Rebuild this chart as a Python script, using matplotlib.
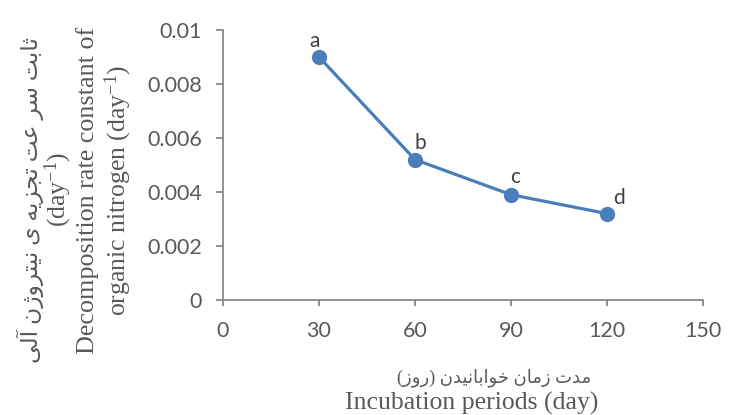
import matplotlib
matplotlib.use('Agg')
import matplotlib.pyplot as plt

# === DATA ===
days = [30, 60, 90, 120]
k_values = [0.0090, 0.0052, 0.0039, 0.0032]
letters = ['a', 'b', 'c', 'd']
x_ticks = [0, 30, 60, 90, 120, 150]
y_ticks = [0, 0.002, 0.004, 0.006, 0.008, 0.01]
y_tick_labels = ['0', '0.002', '0.004', '0.006', '0.008', '0.01']

y_label_fa = 'ثابت سر عت تجزیه ی نیتروژن آلی'
y_label_en1 = 'Decomposition rate constant of'
y_label_en2 = 'organic nitrogen (day$^{-1}$)'
y_label_unit = '(day$^{-1}$)'
x_label_fa = 'مدت زمان خوابانیدن (روز)'
x_label_en = 'Incubation periods (day)'

# === SIMPLE PERSIAN SHAPING (matplotlib has no bidi/shaping) ===
# letter: (isolated, final, initial, medial); right-joining letters only have 2 forms
FORMS = {
    'ا': ('\uFE8D', '\uFE8E'), 'آ': ('\uFE81', '\uFE82'),
    'د': ('\uFEA9', '\uFEAA'), 'ر': ('\uFEAD', '\uFEAE'),
    'ز': ('\uFEAF', '\uFEB0'), 'ژ': ('\uFB8A', '\uFB8B'),
    'و': ('\uFEED', '\uFEEE'),
    'ب': ('\uFE8F', '\uFE90', '\uFE91', '\uFE92'),
    'ت': ('\uFE95', '\uFE96', '\uFE97', '\uFE98'),
    'ث': ('\uFE99', '\uFE9A', '\uFE9B', '\uFE9C'),
    'ج': ('\uFE9D', '\uFE9E', '\uFE9F', '\uFEA0'),
    'خ': ('\uFEA5', '\uFEA6', '\uFEA7', '\uFEA8'),
    'س': ('\uFEB1', '\uFEB2', '\uFEB3', '\uFEB4'),
    'ع': ('\uFEC9', '\uFECA', '\uFECB', '\uFECC'),
    'ل': ('\uFEDD', '\uFEDE', '\uFEDF', '\uFEE0'),
    'م': ('\uFEE1', '\uFEE2', '\uFEE3', '\uFEE4'),
    'ن': ('\uFEE5', '\uFEE6', '\uFEE7', '\uFEE8'),
    'ه': ('\uFEE9', '\uFEEA', '\uFEEB', '\uFEEC'),
    'ی': ('\uFBFC', '\uFBFD', '\uFBFE', '\uFBFF'),
}


def shape_fa(text):
    out = []
    for i, ch in enumerate(text):
        if ch not in FORMS:
            out.append(ch)
            continue
        prev = text[i - 1] if i > 0 else ''
        nxt = text[i + 1] if i < len(text) - 1 else ''
        join_prev = prev in FORMS and len(FORMS[prev]) == 4
        join_next = len(FORMS[ch]) == 4 and nxt in FORMS
        f = FORMS[ch]
        if join_prev and join_next:
            out.append(f[3])
        elif join_prev:
            out.append(f[1])
        elif join_next:
            out.append(f[2])
        else:
            out.append(f[0])
    vis = ''.join(reversed(out))
    return vis.translate(str.maketrans('()', ')('))


plt.rcParams['mathtext.fontset'] = 'custom'
plt.rcParams['mathtext.rm'] = 'Liberation Serif'
plt.rcParams['mathtext.it'] = 'Liberation Serif'

tick_color = '#595959'
axis_color = '#898989'
line_color = '#4a7ebb'
serif = ['Liberation Serif', 'DejaVu Sans']

fig = plt.figure(figsize=(7.4, 4.15), dpi=100)
ax = fig.add_axes([223 / 740, 1 - 300 / 415, 480 / 740, 270 / 415])

ax.plot(days, k_values, color=line_color, lw=2.3, marker='o', ms=10,
        mfc=line_color, mec=line_color, clip_on=False, zorder=3)

offsets = [(-4, 16), (5, 17), (4, 18), (12, 16)]
for x, y, t, off in zip(days, k_values, letters, offsets):
    ax.annotate(t, (x, y), xytext=off, textcoords='offset pixels',
                ha='center', va='center', fontsize=15, color='#404040',
                family='Lato')

ax.set_xlim(0, 150)
ax.set_ylim(0, 0.01)
ax.set_xticks(x_ticks)
ax.set_yticks(y_ticks)
ax.set_yticklabels(y_tick_labels)

for s in ['top', 'right']:
    ax.spines[s].set_visible(False)
for s in ['left', 'bottom']:
    ax.spines[s].set_color(axis_color)
    ax.spines[s].set_linewidth(1.3)

ax.tick_params(axis='both', colors=axis_color, width=1.3, labelcolor=tick_color,
               labelsize=15.5)
ax.tick_params(axis='y', length=5, pad=10)
ax.tick_params(axis='x', length=4, pad=11)
for lbl in ax.get_xticklabels() + ax.get_yticklabels():
    lbl.set_family('Lato')

# y axis titles (four rotated lines)
fig.text(30 / 740, 1 - 200 / 415, shape_fa(y_label_fa), rotation=90,
         ha='center', va='center', fontsize=16.8, color=tick_color, family=serif)
fig.text(58 / 740, 1 - 189 / 415, y_label_unit, rotation=90,
         ha='center', va='center', fontsize=18.5, color=tick_color, family=serif)
fig.text(88 / 740, 1 - 190 / 415, y_label_en1, rotation=90,
         ha='center', va='center', fontsize=18.8, color=tick_color, family=serif)
fig.text(118 / 740, 1 - 190 / 415, y_label_en2, rotation=90,
         ha='center', va='center', fontsize=18.5, color=tick_color, family=serif)

# x axis titles
fig.text(494 / 740, 1 - 378 / 415, shape_fa(x_label_fa), ha='center', va='center',
         fontsize=13, color=tick_color, family=serif)
fig.text(472 / 740, 1 - 403 / 415, x_label_en, ha='center', va='center',
         fontsize=18.5, color=tick_color, family=serif)

fig.savefig('out.png', dpi=100)
